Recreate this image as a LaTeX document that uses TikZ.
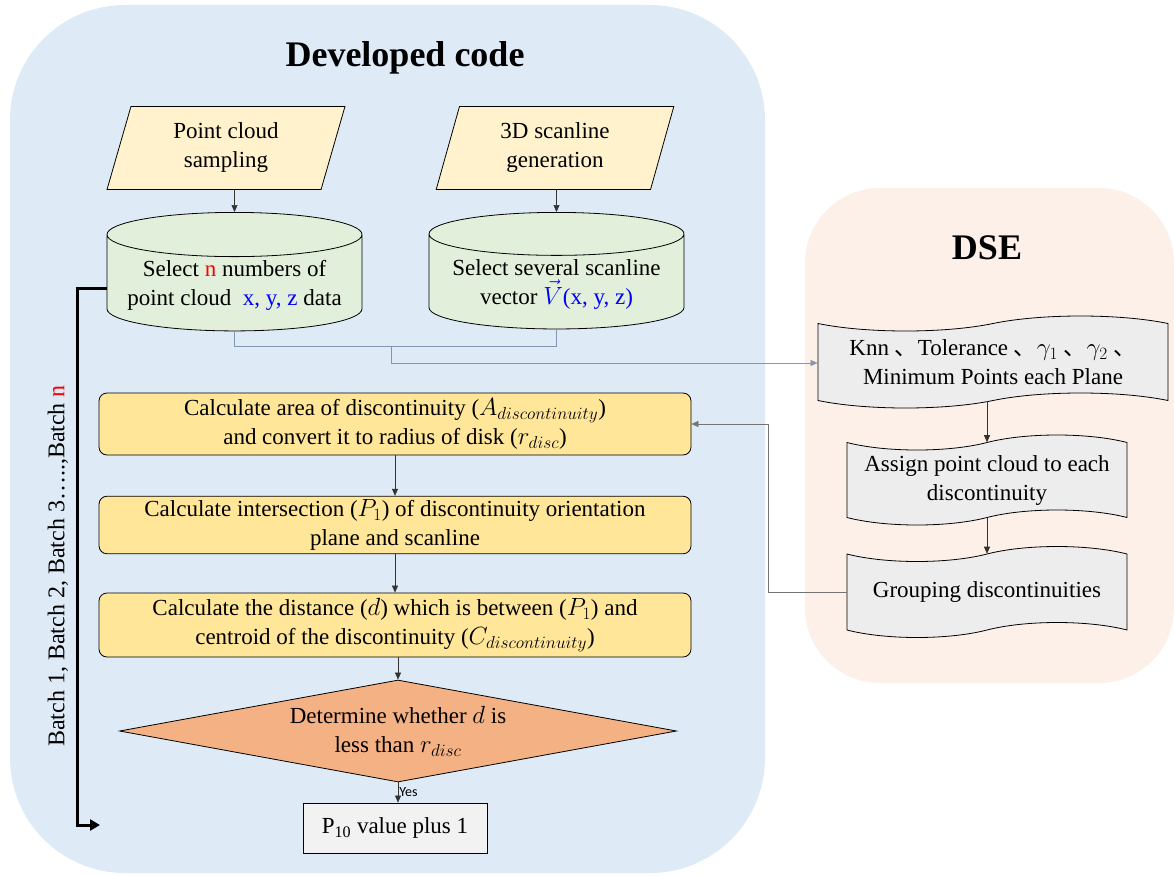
\documentclass[tikz,border=0pt]{standalone}
\usepackage{fontspec}
\setmainfont{Liberation Serif}
\newfontfamily\cjkfont{Noto Sans CJK SC}
\newfontfamily\yesfont{Carlito}
\usetikzlibrary{shapes.geometric,shapes.symbols,arrows.meta}

\definecolor{devblue}{HTML}{DEEBF7}
\definecolor{dsepeach}{HTML}{FCF0E8}
\definecolor{inyellow}{HTML}{FFF2CC}
\definecolor{storegreen}{HTML}{E2EFDA}
\definecolor{calcyellow}{HTML}{FFE699}
\definecolor{decorange}{HTML}{F4B183}
\definecolor{tapegray}{HTML}{EDEDED}
\definecolor{resgray}{HTML}{F2F2F2}
\definecolor{linkblue}{HTML}{8497B0}

\tikzset{
  bodyfont/.style={font=\fontsize{23}{29}\selectfont},
  inbox/.style={trapezium, trapezium left angle=76, trapezium right angle=104,
    trapezium stretches=true, draw, fill=inyellow, line width=0.8pt,
    minimum width=238pt, minimum height=83pt, align=center, bodyfont},
  datastore/.style={cylinder, shape border rotate=90, draw, fill=storegreen,
    line width=0.8pt, aspect=0.2, minimum width=255pt, minimum height=113pt,
    align=center, bodyfont},
  calcbox/.style={rectangle, rounded corners=8pt, draw, fill=calcyellow,
    line width=0.8pt, minimum width=592pt, align=center, bodyfont},
  decide/.style={diamond, draw, fill=decorange, line width=0.8pt, aspect=5.46,
    minimum width=557pt, minimum height=102pt, inner sep=0pt, align=center, bodyfont},
  dsebox/.style={tape, draw, fill=tapegray, line width=0.8pt, tape bend height=15pt,
    align=center, bodyfont},
  resbox/.style={rectangle, draw, fill=resgray, line width=0.8pt,
    minimum width=184pt, minimum height=50pt, bodyfont},
  flow/.style={-{Triangle[length=7pt,width=6pt]}, line width=0.6pt, draw=black!80},
  link/.style={line width=0.8pt, draw=linkblue}
}

\begin{document}
\begin{tikzpicture}[x=1pt,y=-1pt]
  \useasboundingbox (0,0) rectangle (1174,875);
  % panels
  \fill[devblue, rounded corners=115pt] (10,5) rectangle (765,873);
  \fill[dsepeach, rounded corners=75pt] (805,188) rectangle (1174,683);
  \node[font=\fontsize{36}{40}\selectfont\bfseries] (devtitle) at (405,58) {Developed code};
  \node[font=\fontsize{36}{40}\selectfont\bfseries] (dsetitle) at (987,248) {DSE};

  % inputs
  \node[inbox] (sampling) at (226,148) {Point cloud\\sampling};
  \node[inbox] (scanline) at (555,148) {3D scanline\\generation};
  \node[datastore, anchor=north] (selpts) at (234.5,212)
    {Select \textcolor{red}{n} numbers of\\point cloud \ \textcolor{blue}{x, y, z} data};
  \node[datastore, anchor=north] (selvec) at (556.5,212)
    {Select several scanline\\vector \textcolor{blue}{\smash{$\vec{V}$}(x, y, z)}};

  % DSE
  \node[dsebox, minimum width=350pt, minimum height=92pt] (params) at (993,362)
    {Knn\ {\cjkfont 、}Tolerance\ {\cjkfont 、}$\gamma_1$\ {\cjkfont 、}$\gamma_2$\ {\cjkfont 、}\\Minimum Points each Plane};
  \node[dsebox, minimum width=280pt, minimum height=90pt] (assign) at (987,480)
    {Assign point cloud to each\\discontinuity};
  \node[dsebox, minimum width=280pt, minimum height=91pt] (group) at (987,592)
    {Grouping discontinuities};

  % main flow
  \node[calcbox, minimum height=62pt] (area) at (395,424)
    {Calculate area of discontinuity ($A_{discontinuity}$)\\and convert it to radius of disk ($r_{disc}$)};
  \node[calcbox, minimum height=56pt] (inter) at (395,525)
    {Calculate intersection ($P_1$) of discontinuity orientation\\plane and scanline};
  \node[calcbox, minimum height=64pt] (dist) at (395,625)
    {Calculate the distance ($d$) which is between ($P_1$) and\\centroid of the discontinuity ($C_{discontinuity}$)};
  \node[decide] (check) at (398,731) {Determine whether $d$ is\\less than $r_{disc}$};
  \node[resbox] (plus) at (395,828) {P\textsubscript{10} value plus 1};

  % connectors
  \draw[flow] (sampling.south -| selpts.north) -- (selpts.north);
  \draw[flow] (scanline.south -| selvec.north) -- (selvec.north);
  \draw[link] (selpts.south) -- (selpts.south |- 0,346) -| (selvec.south);
  \coordinate (join) at (391,346);
  \draw[link] (join) -- (391,363);
  \draw[flow, draw=linkblue] (391,363) -- (params.west |- 0,363);
  \draw[flow] (assign.north |- params.south) -- (assign.north);
  \draw[flow] (assign.south) -- (group.north);
  \draw[flow, draw=black!55] (group.west) -- (768,592) |- (area.east);
  \draw[flow] (area.south) -- (inter.north);
  \draw[flow] (inter.south) -- (dist.north);
  \draw[flow] (dist.south -| check.north) -- (check.north);
  \draw[flow] (check.south) -- node[right, font=\fontsize{14}{16}\selectfont\yesfont, inner sep=1pt] {Yes} (check.south |- plus.north);

  % batch loop
  \coordinate (loopend) at (100,825);
  \draw[line width=3pt, -{Triangle[length=10pt,width=11pt]}] (selpts.west |- 0,288) -- (77,288) -- (77,825) -- (loopend);
  \node[rotate=90, font=\fontsize{24}{28}\selectfont] (batches) at (58,566)
    {Batch 1, Batch 2, Batch 3\dots..,Batch \textcolor{red}{n}};
\end{tikzpicture}
\end{document}
